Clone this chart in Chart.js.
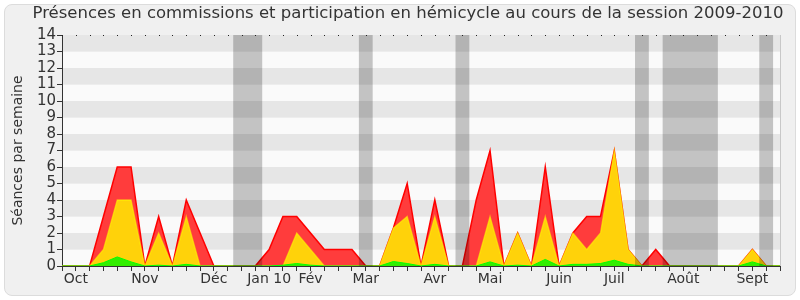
<!DOCTYPE html>
<html>
<head>
<meta charset="utf-8">
<script src="https://cdn.jsdelivr.net/npm/chart.js@4.4.1/dist/chart.umd.min.js"></script>
<style>
  html, body { margin: 0; padding: 0; background: #fff; }
  #box { position: absolute; left: 4px; top: 4px; width: 790px; height: 290px; border: 1px solid #dcdcdc; border-radius: 8px; background: #f0f0f0; }
  #wrap { position: absolute; left: 0; top: 0; width: 800px; height: 300px; }
</style>
</head>
<body>
<div id="box"></div>
<div id="wrap"><canvas id="chart" width="800" height="300"></canvas></div>
<script>
// one entry per week, session 2009-2010
const weeks = Array.from({length: 53}, (_, i) => i);
const months = ['Oct', 'Nov', 'Déc', 'Jan 10', 'Fév', 'Mar', 'Avr', 'Mai', 'Juin', 'Juil', 'Août', 'Sept'];
const monthWeeks = [1, 6, 11, 15, 18, 22, 27, 31, 36, 40, 45, 50];

const presence =      [0,0,0,3,6,6,0,3,0,4,2,0,0,0,0,1,3,3,2,1,1,1,0,0,2.3,5,0,4,0,0,4,7,0,2,0,6,0,2,3,3,7,1,0,1,0,0,0,0,0,0,1,0,0];
const participation = [0,0,0,1,4,4,0,2,0,3,0,0,0,0,0,0,0,2,1,0,0,0,0,0,2.3,3,0,3,0,0,0,3,0,2,0,3,0,2,1,2,7,1,0,0,0,0,0,0,0,0,1,0,0];
const interventions = [0,0,0,0.2,0.55,0.25,0,0.05,0,0.1,0,0,0,0,0,0,0.05,0.15,0.05,0,0,0,0,0,0.27,0.15,0,0.1,0,0,0,0.25,0,0.05,0,0.4,0,0.1,0.1,0.15,0.35,0.1,0,0,0,0,0,0,0,0,0.25,0,0];

// vacances parlementaires (in weeks)
const vacances = [[12.4, 14.5], [21.5, 22.5], [28.5, 29.5], [41.5, 42.5], [43.5, 47.5], [50.5, 51.5]];

const titre = 'Présences en commissions et participation en hémicycle au cours de la session 2009-2010';
const font = { family: 'DejaVu Sans', size: 14 };

const decor = {
    id: 'decor',
    beforeDraw(chart) {
        const { ctx, chartArea: a, scales: { y } } = chart;
        ctx.save();
        for (let v = 0; v < 14; v++) {
            ctx.fillStyle = v % 2 ? '#e6e6e6' : '#fafafa';
            const y1 = y.getPixelForValue(v + 1), y0 = y.getPixelForValue(v);
            ctx.fillRect(a.left, y1, a.right - a.left, y0 - y1);
        }
        ctx.restore();
    },
    afterDatasetsDraw(chart) {
        const { ctx, chartArea: a, scales: { x } } = chart;
        ctx.save();
        ctx.fillStyle = 'rgba(0,0,0,0.22)';
        vacances.forEach(([s, e]) => {
            const x0 = x.getPixelForValue(s), x1 = x.getPixelForValue(e);
            ctx.fillRect(x0, a.top, x1 - x0, a.bottom - a.top);
        });
        ctx.fillStyle = '#222';
        weeks.forEach(w => ctx.fillRect(Math.round(x.getPixelForValue(w)), a.top, 1, 1));
        ctx.strokeStyle = '#c8c8c8';
        ctx.beginPath();
        ctx.moveTo(a.right + 0.5, a.top);
        ctx.lineTo(a.right + 0.5, a.bottom);
        ctx.stroke();
        // title
        ctx.fillStyle = '#333';
        ctx.font = '16.5px "DejaVu Sans"';
        ctx.textAlign = 'center';
        ctx.textBaseline = 'middle';
        ctx.fillText(titre, 408, 14);
        ctx.restore();
    }
};

new Chart(document.getElementById('chart'), {
    type: 'line',
    data: {
        labels: weeks,
        datasets: [
            { data: interventions, borderColor: '#00ff00', backgroundColor: '#33ee00', fill: 'origin', borderWidth: 1 },
            { data: participation, borderColor: 'rgba(255,255,0,0.55)', backgroundColor: '#ffd20a', fill: 'origin', borderWidth: 1.3 },
            { data: presence, borderColor: '#ff0000', backgroundColor: '#ff3c3c', fill: 'origin', borderWidth: 1.5 }
        ]
    },
    options: {
        responsive: false,
        animation: false,
        elements: { point: { radius: 0 }, line: { tension: 0 } },
        layout: { padding: { left: 0, right: 20, top: 35, bottom: 0 } },
        plugins: {
            legend: { display: false },
            tooltip: { enabled: false }
        },
        scales: {
            x: {
                offset: false,
                grid: { drawOnChartArea: false, tickLength: 5, color: '#333' },
                border: { color: '#333' },
                ticks: {
                    autoSkip: false, maxRotation: 0, padding: 0, font, color: '#333',
                    callback: (v, i) => {
                        const k = monthWeeks.indexOf(i);
                        return k >= 0 ? months[k] : '';
                    }
                },
                afterFit: s => { s.height = 34; }
            },
            y: {
                min: 0, max: 14,
                grid: { drawOnChartArea: false, tickLength: 5, color: '#333' },
                border: { color: '#333' },
                ticks: { stepSize: 1, autoSkip: false, font: { family: 'DejaVu Sans', size: 15 }, color: '#333', padding: 1 },
                title: { display: true, text: 'Séances par semaine', font, color: '#333', padding: { top: 10, bottom: 0 } },
                afterFit: s => { s.width = 62; }
            }
        }
    },
    plugins: [decor]
});
</script>
</body>
</html>
